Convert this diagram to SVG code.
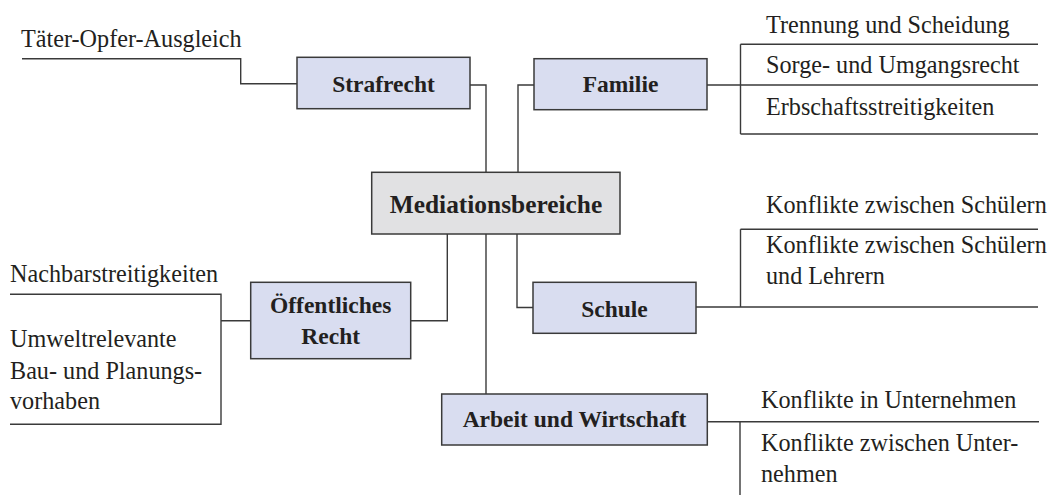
<svg xmlns="http://www.w3.org/2000/svg" width="1055" height="495" viewBox="0 0 1055 495">
<style>
.box{fill:#d9ddf0;stroke:#3a3a3a;stroke-width:1.5}
.root{fill:#e1e1e3;stroke:#3a3a3a;stroke-width:1.5}
.lbl{font-family:"Liberation Serif",serif;font-weight:bold;font-size:23.5px;fill:#231f20;text-anchor:middle}
.leaf{font-family:"Liberation Serif",serif;font-size:24.2px;fill:#231f20}
.con{fill:none;stroke:#3a3a3a;stroke-width:1.4}
</style>
<rect width="1055" height="495" fill="#ffffff"/>
<g id="connectors">
<path class="con" d="M22,58.7H240.7V83.7H297"/>
<path class="con" d="M470,85H486V172"/>
<path class="con" d="M534,85H518V172"/>
<path class="con" d="M707,85H1038M740.5,44.3H1038M740.5,134H1038M740.5,44.3V134"/>
<path class="con" d="M447.3,234V320.7H410.7"/>
<path class="con" d="M250.7,320.7H221M10,294.3H221V424.3H10"/>
<path class="con" d="M517,234V307.5H533"/>
<path class="con" d="M696,307H1038M740.5,229.3H1038M740.5,229.3V307"/>
<path class="con" d="M486,234V394"/>
<path class="con" d="M707,421.7H1039M740,421.7V495"/>
</g>
<g id="strafrecht">
<rect class="box" x="297" y="57.3" width="173" height="51.4"/>
<text class="lbl" x="383.5" y="92">Strafrecht</text>
</g>
<g id="taeter">
<text class="leaf" x="21" y="46.5">Täter-Opfer-Ausgleich</text>
</g>
<g id="familie">
<rect class="box" x="534" y="58.7" width="173" height="51"/>
<text class="lbl" x="620.5" y="92">Familie</text>
</g>
<g id="familie-leaves">
<text class="leaf" x="766" y="32.5">Trennung und Scheidung</text>
<text class="leaf" x="766" y="72.7">Sorge- und Umgangsrecht</text>
<text class="leaf" x="766" y="115">Erbschaftsstreitigkeiten</text>
</g>
<g id="mediation">
<rect class="root" x="371.7" y="172.3" width="248.3" height="61.7"/>
<text class="lbl" x="496" y="213" style="font-size:25.4px">Mediationsbereiche</text>
</g>
<g id="oeffentlich">
<rect class="box" x="250.7" y="282.3" width="160" height="76.4"/>
<text class="lbl" x="330.7" y="313">Öffentliches</text>
<text class="lbl" x="330.7" y="344">Recht</text>
</g>
<g id="oeffentlich-leaves">
<text class="leaf" x="10" y="281.5">Nachbarstreitigkeiten</text>
<text class="leaf" x="10" y="347">Umweltrelevante</text>
<text class="leaf" x="10" y="378.5">Bau- und Planungs-</text>
<text class="leaf" x="10" y="409">vorhaben</text>
</g>
<g id="schule">
<rect class="box" x="533" y="282.3" width="163" height="51"/>
<text class="lbl" x="614.5" y="316.5">Schule</text>
</g>
<g id="schule-leaves">
<text class="leaf" x="766" y="213.3">Konflikte zwischen Schülern</text>
<text class="leaf" x="766" y="252.7">Konflikte zwischen Schülern</text>
<text class="leaf" x="766" y="284">und Lehrern</text>
</g>
<g id="arbeit">
<rect class="box" x="441.7" y="394" width="265.6" height="51"/>
<text class="lbl" x="574.5" y="427">Arbeit und Wirtschaft</text>
</g>
<g id="arbeit-leaves">
<text class="leaf" x="761" y="408.3">Konflikte in Unternehmen</text>
<text class="leaf" x="761" y="451">Konflikte zwischen Unter-</text>
<text class="leaf" x="761" y="482">nehmen</text>
</g>
</svg>
